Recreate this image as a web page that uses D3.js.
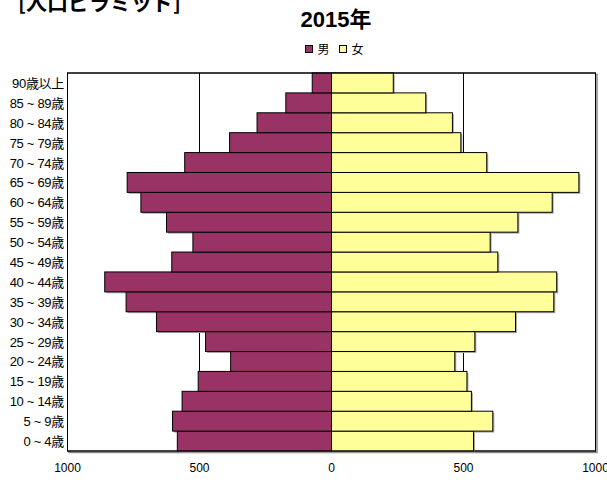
<!DOCTYPE html>
<html>
<head>
<meta charset="utf-8">
<script src="https://cdn.jsdelivr.net/npm/d3@7"></script>
<style>
  body { margin: 0; background: #fff; }
  text { font-family: "Liberation Sans", Arial, "Noto Sans CJK JP", sans-serif; }
</style>
</head>
<body>
<div id="chart"></div>
<script>
var ageGroups = ["0 ~ 4歳", "5 ~ 9歳", "10 ~ 14歳", "15 ~ 19歳", "20 ~ 24歳", "25 ~ 29歳", "30 ~ 34歳",
    "35 ~ 39歳", "40 ~ 44歳", "45 ~ 49歳", "50 ~ 54歳", "55 ~ 59歳", "60 ~ 64歳", "65 ~ 69歳",
    "70 ~ 74歳", "75 ~ 79歳", "80 ~ 84歳", "85 ~ 89歳", "90歳以上"];
var male = [584, 602, 566, 505, 382, 477, 663, 778, 859, 605, 525, 625, 722, 774, 556, 386, 282, 173, 73];
var female = [538, 611, 530, 513, 467, 543, 697, 842, 853, 630, 601, 706, 836, 937, 588, 490, 458, 357, 234];
var xTicks = [-1000, -500, 0, 500, 1000];
var seriesNames = ["男", "女"];
var colors = ["#993366", "#ffff99"];

var width = 607, height = 480,
    plotLeft = 67.5, plotRight = 595.5, plotTop = 73, plotBottom = 451;

var svg = d3.select("#chart").append("svg")
    .attr("width", width)
    .attr("height", height);

var x = d3.scaleLinear().domain([-1000, 1000]).range([plotLeft, plotRight]);
var y = d3.scaleBand().domain(ageGroups.slice().reverse()).range([plotTop, plotBottom]).padding(0);

// big heading, cut off at the top
svg.append("text")
    .attr("x", 18).attr("y", 10)
    .attr("font-size", 21).attr("font-weight", "bold")
    .style("font-family", "'Noto Sans CJK JP', sans-serif")
    .text("[人口ピラミッド]");

svg.append("text")
    .attr("x", 336).attr("y", 27)
    .attr("text-anchor", "middle")
    .attr("font-size", 22).attr("font-weight", "bold")
    .text("2015年");

// legend
var legend = svg.append("g").attr("transform", "translate(305.5,44.5)");
seriesNames.forEach(function(name, i) {
    var g = legend.append("g").attr("transform", "translate(" + (i * 34) + ",0)");
    g.append("rect").attr("width", 7).attr("height", 7).attr("y", 1)
        .attr("fill", colors[i]).attr("stroke", "#000").attr("stroke-width", 1);
    g.append("text").attr("x", 12).attr("y", 9.5)
        .attr("font-size", 12)
        .style("font-family", "'Noto Sans CJK JP', sans-serif")
        .text(name);
});

// plot area shadow + frame
svg.append("rect")
    .attr("x", plotLeft + 1.5).attr("y", plotTop + 1.5)
    .attr("width", plotRight - plotLeft).attr("height", plotBottom - plotTop)
    .attr("fill", "none").attr("stroke", "#888").attr("stroke-width", 1.5);
svg.append("rect")
    .attr("x", plotLeft).attr("y", plotTop)
    .attr("width", plotRight - plotLeft).attr("height", plotBottom - plotTop)
    .attr("fill", "#fff").attr("stroke", "#000").attr("stroke-width", 1);

// gridlines at +-500
svg.selectAll("line.grid")
    .data([-500, 500])
    .enter().append("line")
    .attr("class", "grid")
    .attr("x1", function(d) { return x(d); })
    .attr("x2", function(d) { return x(d); })
    .attr("y1", plotTop).attr("y2", plotBottom)
    .attr("stroke", "#000").attr("stroke-width", 1);

var rows = ageGroups.map(function(a, i) {
    return { age: a, male: male[i], female: female[i] };
});

function drawBars(key, sign, color) {
    var g = svg.append("g");
    var rx = function(d) { return sign < 0 ? x(-d[key]) : x(0); };
    var rw = function(d) { return Math.abs(x(sign * d[key]) - x(0)); };
    g.selectAll("rect.shadow")
        .data(rows)
        .enter().append("rect")
        .attr("class", "shadow")
        .attr("x", function(d) { return rx(d) + 1.5; })
        .attr("y", function(d) { return y(d.age) + 1.5; })
        .attr("width", rw)
        .attr("height", y.bandwidth())
        .attr("fill", "#aaa");
    g.selectAll("rect.bar")
        .data(rows)
        .enter().append("rect")
        .attr("class", "bar")
        .attr("x", rx)
        .attr("y", function(d) { return y(d.age); })
        .attr("width", rw)
        .attr("height", y.bandwidth())
        .attr("fill", color)
        .attr("stroke", "#000")
        .attr("stroke-width", 1);
}
drawBars("male", -1, colors[0]);
drawBars("female", 1, colors[1]);

// re-draw frame lines on top
svg.append("rect")
    .attr("x", plotLeft).attr("y", plotTop)
    .attr("width", plotRight - plotLeft).attr("height", plotBottom - plotTop)
    .attr("fill", "none").attr("stroke", "#000").attr("stroke-width", 1);

// y labels
svg.append("g").selectAll("text")
    .data(ageGroups)
    .enter().append("text")
    .attr("x", plotLeft - 3.5)
    .attr("y", function(d) { return y(d) + y.bandwidth() / 2 + 5; })
    .attr("text-anchor", "end")
    .attr("font-size", 13)
    .attr("letter-spacing", -0.3)
    .text(function(d) { return d; });

// x tick labels
svg.append("g").selectAll("text")
    .data(xTicks)
    .enter().append("text")
    .attr("x", function(d) { return x(d); })
    .attr("y", plotBottom + 21)
    .attr("text-anchor", "middle")
    .attr("font-size", 12)
    .text(function(d) { return Math.abs(d); });
</script>
</body>
</html>
